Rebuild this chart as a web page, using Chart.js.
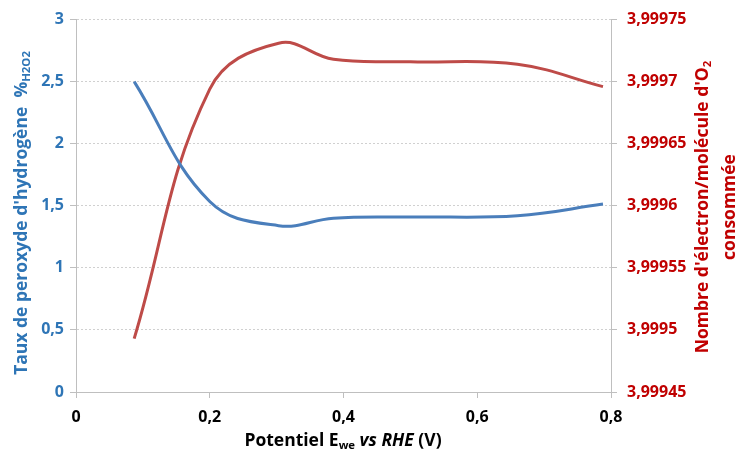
<!DOCTYPE html>
<html>
<head>
<meta charset="utf-8">
<script src="https://cdn.jsdelivr.net/npm/chart.js@4"></script>
<style>
  html, body { margin: 0; padding: 0; background: #fff; }
  #wrap { width: 743px; height: 452px; }
</style>
</head>
<body>
<div id="wrap"><canvas id="chart"></canvas></div>
<script>
// values
var potentiel = [0.087, 0.2, 0.303, 0.385, 0.5, 0.66, 0.788];
var tauxH2O2 = [2.5, 1.535, 1.34, 1.40, 1.41, 1.42, 1.514];
var nbElectrons = [3.999493, 3.999694, 3.999731, 3.999718, 3.999716, 3.999714, 3.999696];

var xTicks = [0, 0.2, 0.4, 0.6, 0.8];

var blue = '#2E75B6';
var red = '#C00000';
var FONT = '"Open Sans", sans-serif';

function pts(xs, ys) {
  return xs.map(function (x, i) { return { x: x, y: ys[i] }; });
}
function comma(v, d) {
  return String(Number(v.toFixed(d))).replace('.', ',');
}

// draws a line of text made of parts (normal / subscript / italic)
function drawParts(ctx, parts, cx, cy, size) {
  var total = 0;
  parts.forEach(function (p) {
    ctx.font = (p.italic ? 'italic ' : '') + 'bold ' + (p.sub ? size * 0.65 : size) + 'px ' + FONT;
    p.w = ctx.measureText(p.t).width;
    total += p.w;
  });
  var x = cx - total / 2;
  parts.forEach(function (p) {
    ctx.font = (p.italic ? 'italic ' : '') + 'bold ' + (p.sub ? size * 0.65 : size) + 'px ' + FONT;
    ctx.fillText(p.t, x, cy + (p.sub ? size * 0.3 : 0));
    x += p.w;
  });
}

var titles = {
  id: 'titles',
  afterDraw: function (chart) {
    var ctx = chart.ctx;
    var a = chart.chartArea;
    ctx.save();

    // solid left axis line (grid lines are dotted)
    ctx.strokeStyle = '#BFBFBF';
    ctx.lineWidth = 1;
    ctx.beginPath();
    ctx.moveTo(a.left + 0.5, a.top);
    ctx.lineTo(a.left + 0.5, a.bottom);
    ctx.stroke();

    ctx.textBaseline = 'middle';
    ctx.textAlign = 'left';

    ctx.fillStyle = '#000';
    drawParts(ctx, [{ t: 'Potentiel E' }, { t: 'we', sub: true }, { t: ' ' }, { t: 'vs RHE', italic: true }, { t: ' (V)' }], 343, 441, 17.5);

    ctx.save();
    ctx.fillStyle = blue;
    ctx.translate(22, 213);
    ctx.rotate(-Math.PI / 2);
    drawParts(ctx, [{ t: "Taux de peroxyde d'hydrogène  %" }, { t: 'H2O2', sub: true }], 0, 0, 17.5);
    ctx.restore();

    ctx.save();
    ctx.fillStyle = red;
    ctx.translate(703, 207);
    ctx.rotate(-Math.PI / 2);
    drawParts(ctx, [{ t: "Nombre d'électron/molécule d'O" }, { t: '2', sub: true }], 0, 0, 17.5);
    drawParts(ctx, [{ t: 'consommée' }], 0, 27, 17.5);
    ctx.restore();

    ctx.restore();
  }
};

new Chart(document.getElementById('chart'), {
  type: 'line',
  data: {
    datasets: [{
      label: 'H2O2',
      data: pts(potentiel, tauxH2O2),
      yAxisID: 'y',
      borderColor: '#4A7EBB',
      borderWidth: 3,
      pointRadius: 0,
      tension: 0.4
    }, {
      label: 'n',
      data: pts(potentiel, nbElectrons),
      yAxisID: 'y2',
      borderColor: '#BE4B48',
      borderWidth: 3,
      pointRadius: 0,
      tension: 0.4
    }]
  },
  options: {
    responsive: true,
    maintainAspectRatio: false,
    animation: false,
    layout: { padding: { top: 12, bottom: 0, left: 0, right: 0 } },
    plugins: { legend: { display: false }, tooltip: { enabled: false } },
    scales: {
      x: {
        type: 'linear',
        min: 0, max: 0.8,
        afterBuildTicks: function (s) { s.ticks = xTicks.map(function (v) { return { value: v }; }); },
        afterFit: function (s) { s.height = 60; },
        border: { color: '#BFBFBF', width: 1 },
        grid: { drawOnChartArea: false, drawTicks: true, tickLength: 6, tickColor: '#BFBFBF' },
        ticks: {
          color: '#000', padding: 10,
          font: { family: FONT, size: 16, weight: 'bold' },
          callback: function (v) { return comma(v, 1); }
        }
      },
      y: {
        position: 'left',
        min: 0, max: 3,
        ticks: {
          stepSize: 0.5, color: blue, padding: 6,
          font: { family: FONT, size: 16, weight: 'bold' },
          callback: function (v) { return comma(v, 1); }
        },
        afterFit: function (s) { s.width = 76; },
        border: { color: '#BFBFBF', width: 1, dash: [2, 2] },
        grid: { color: '#D0D0D0', tickColor: '#BFBFBF', tickLength: 6, tickBorderDash: [] }
      },
      y2: {
        position: 'right',
        min: 3.99945, max: 3.99975,
        ticks: {
          stepSize: 0.00005, color: red, padding: 10,
          font: { family: FONT, size: 16, weight: 'bold' },
          callback: function (v) { return comma(v, 5); }
        },
        afterFit: function (s) { s.width = 132; },
        border: { color: '#BFBFBF', width: 1 },
        grid: { drawOnChartArea: false, tickColor: '#BFBFBF', tickLength: 6 }
      }
    }
  },
  plugins: [titles]
});
</script>
</body>
</html>
